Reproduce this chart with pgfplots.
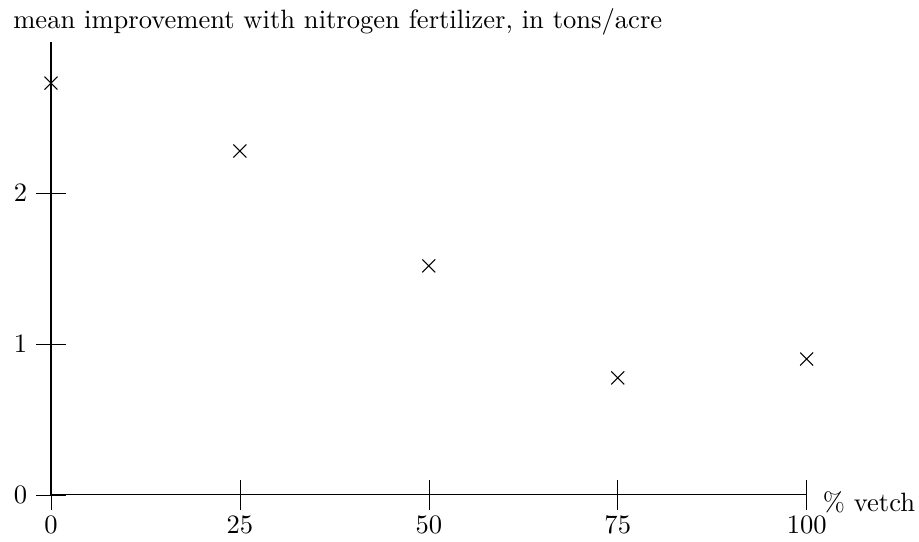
\documentclass[border=0pt]{standalone}
\usepackage{pgfplots}
\pgfplotsset{compat=1.18}

\begin{document}
\begin{tikzpicture}
\begin{axis}[
  scale only axis, width=284.6pt, height=170.6pt,
  axis lines*=left, axis line style={-},
  xmin=0, xmax=100, ymin=0, ymax=3,
  xtick={0,25,50,75,100}, ytick={0,1,2},
  xtick pos=left, ytick pos=left,
  xtick align=center, ytick align=center,
  major tick length=11.3pt,
  tick style={black},
  xticklabel style={yshift=1.2pt},
  yticklabel style={xshift=0.2pt},
  every axis y label/.style={at={(axis description cs:0,1)}, anchor=base west, xshift=-17.7pt, yshift=5.0pt},
  every axis x label/.style={at={(axis description cs:1,0)}, anchor=base west, xshift=2.6pt, yshift=-6.4pt},
  ylabel={mean improvement with nitrogen fertilizer, in tons/acre},
  xlabel={\% vetch},
]
\addplot[only marks, mark=x, mark size=3.45pt, black] coordinates {
  (0,2.728) (25,2.278) (50,1.517) (75,0.775) (100,0.90)
};
\coordinate (ll) at (rel axis cs:0,0);
\coordinate (ur) at (rel axis cs:1,1);
\end{axis}
\pgfresetboundingbox
\path[use as bounding box] ([shift={(-19.2pt,-17.7pt)}]ll) rectangle ([shift={(42.3pt,15.8pt)}]ur);
\end{tikzpicture}
\end{document}
